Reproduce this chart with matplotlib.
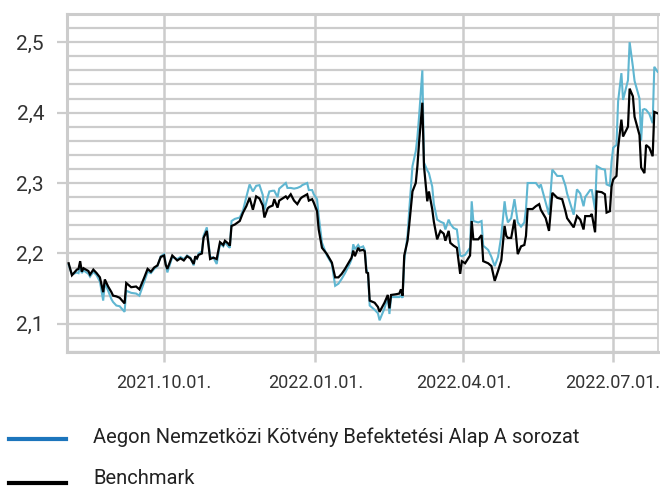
import matplotlib
matplotlib.use("Agg")
import matplotlib.pyplot as plt
import matplotlib.dates as mdates
from matplotlib.lines import Line2D
import numpy as np
import pandas as pd

plt.rcParams['font.family'] = ['Roboto', 'DejaVu Sans']

dates = [
    "2021-08-04", "2021-08-06", "2021-08-09", "2021-08-10", "2021-08-11", "2021-08-12",
    "2021-08-13", "2021-08-16", "2021-08-17", "2021-08-19", "2021-08-21", "2021-08-23",
    "2021-08-25", "2021-08-26", "2021-08-28", "2021-08-30", "2021-08-31", "2021-09-02",
    "2021-09-04", "2021-09-07", "2021-09-08", "2021-09-11", "2021-09-14", "2021-09-16",
    "2021-09-19", "2021-09-21", "2021-09-23", "2021-09-25", "2021-09-27", "2021-09-29",
    "2021-10-01", "2021-10-02", "2021-10-03", "2021-10-06", "2021-10-09", "2021-10-11",
    "2021-10-13", "2021-10-15", "2021-10-17", "2021-10-19", "2021-10-20", "2021-10-21",
    "2021-10-22", "2021-10-24", "2021-10-25", "2021-10-27", "2021-10-29", "2021-10-31",
    "2021-11-02", "2021-11-04", "2021-11-06", "2021-11-07", "2021-11-09", "2021-11-10",
    "2021-11-11", "2021-11-13", "2021-11-16", "2021-11-18", "2021-11-20", "2021-11-22",
    "2021-11-24", "2021-11-26", "2021-11-28", "2021-11-30", "2021-12-01", "2021-12-03",
    "2021-12-04", "2021-12-06", "2021-12-07", "2021-12-09", "2021-12-10", "2021-12-14",
    "2021-12-15", "2021-12-17", "2021-12-19", "2021-12-21", "2021-12-23", "2021-12-24",
    "2021-12-27", "2021-12-28", "2021-12-30", "2021-12-31", "2022-01-02", "2022-01-03",
    "2022-01-05", "2022-01-08", "2022-01-11", "2022-01-13", "2022-01-15", "2022-01-17",
    "2022-01-19", "2022-01-22", "2022-01-23", "2022-01-24", "2022-01-25", "2022-01-27",
    "2022-01-28", "2022-01-30", "2022-01-31", "2022-02-01", "2022-02-02", "2022-02-03",
    "2022-02-06", "2022-02-08", "2022-02-09", "2022-02-12", "2022-02-14", "2022-02-15",
    "2022-02-16", "2022-02-19", "2022-02-21", "2022-02-22", "2022-02-23", "2022-02-24",
    "2022-02-26", "2022-02-27", "2022-03-01", "2022-03-03", "2022-03-04", "2022-03-05",
    "2022-03-07", "2022-03-08", "2022-03-10", "2022-03-11", "2022-03-13", "2022-03-14",
    "2022-03-16", "2022-03-18", "2022-03-20", "2022-03-21", "2022-03-23", "2022-03-24",
    "2022-03-26", "2022-03-28", "2022-03-30", "2022-03-31", "2022-04-02", "2022-04-05",
    "2022-04-06", "2022-04-07", "2022-04-10", "2022-04-12", "2022-04-13", "2022-04-16",
    "2022-04-18", "2022-04-20", "2022-04-22", "2022-04-24", "2022-04-26", "2022-04-27",
    "2022-04-28", "2022-04-30", "2022-05-02", "2022-05-04", "2022-05-06", "2022-05-08",
    "2022-05-09", "2022-05-10", "2022-05-13", "2022-05-15", "2022-05-17", "2022-05-18",
    "2022-05-21", "2022-05-23", "2022-05-25", "2022-05-28", "2022-05-31", "2022-06-02",
    "2022-06-03", "2022-06-07", "2022-06-09", "2022-06-11", "2022-06-13", "2022-06-14",
    "2022-06-17", "2022-06-18", "2022-06-20", "2022-06-21", "2022-06-24", "2022-06-26",
    "2022-06-27", "2022-06-29", "2022-06-30", "2022-07-01", "2022-07-03", "2022-07-04",
    "2022-07-06", "2022-07-07", "2022-07-10", "2022-07-11", "2022-07-13", "2022-07-14",
    "2022-07-17", "2022-07-18", "2022-07-19", "2022-07-20", "2022-07-21", "2022-07-23",
    "2022-07-25", "2022-07-26", "2022-07-28",
]

fund = [
    2.184, 2.170, 2.173, 2.172, 2.182, 2.172,
    2.176, 2.171, 2.167, 2.174, 2.169, 2.160,
    2.133, 2.158, 2.147, 2.135, 2.131, 2.126,
    2.125, 2.117, 2.147, 2.144, 2.143, 2.140,
    2.160, 2.174, 2.172, 2.178, 2.182, 2.196,
    2.199, 2.186, 2.173, 2.195, 2.192, 2.195,
    2.192, 2.197, 2.194, 2.183, 2.195, 2.192,
    2.200, 2.203, 2.225, 2.237, 2.195, 2.194,
    2.185, 2.214, 2.210, 2.216, 2.210, 2.208,
    2.246, 2.249, 2.251, 2.261, 2.280, 2.298,
    2.288, 2.296, 2.297, 2.283, 2.262, 2.280,
    2.288, 2.289, 2.289, 2.280, 2.292, 2.300,
    2.293, 2.293, 2.292, 2.293, 2.295, 2.297,
    2.300, 2.290, 2.290, 2.284, 2.277, 2.253,
    2.215, 2.197, 2.185, 2.154, 2.157, 2.164,
    2.172, 2.186, 2.192, 2.213, 2.206, 2.212,
    2.208, 2.210, 2.205, 2.178, 2.170, 2.126,
    2.120, 2.115, 2.105, 2.122, 2.138, 2.114,
    2.138, 2.138, 2.138, 2.140, 2.137, 2.190,
    2.225, 2.260, 2.324, 2.345, 2.365, 2.394,
    2.460, 2.329, 2.318, 2.314, 2.295, 2.270,
    2.248, 2.245, 2.243, 2.234, 2.248, 2.242,
    2.236, 2.234, 2.197, 2.196, 2.198, 2.208,
    2.274, 2.246, 2.244, 2.246, 2.211, 2.205,
    2.195, 2.182, 2.195, 2.225, 2.274, 2.255,
    2.244, 2.250, 2.277, 2.244, 2.238, 2.244,
    2.263, 2.300, 2.300, 2.300, 2.294, 2.298,
    2.272, 2.255, 2.319, 2.310, 2.310, 2.296,
    2.285, 2.255, 2.291, 2.285, 2.267, 2.280,
    2.290, 2.290, 2.262, 2.324, 2.320, 2.319,
    2.298, 2.296, 2.330, 2.350, 2.354, 2.416,
    2.456, 2.418, 2.446, 2.500, 2.465, 2.445,
    2.420, 2.360, 2.404, 2.405, 2.404, 2.398,
    2.385, 2.465, 2.458,
]

benchmark = [
    2.186, 2.169, 2.177, 2.178, 2.189, 2.174,
    2.179, 2.175, 2.170, 2.177, 2.172, 2.166,
    2.145, 2.163, 2.153, 2.145, 2.140, 2.139,
    2.137, 2.129, 2.158, 2.152, 2.153, 2.149,
    2.166, 2.178, 2.174, 2.180, 2.183, 2.195,
    2.197, 2.184, 2.178, 2.197, 2.190, 2.193,
    2.190, 2.196, 2.193, 2.185, 2.196, 2.193,
    2.198, 2.200, 2.222, 2.232, 2.192, 2.194,
    2.192, 2.216, 2.212, 2.218, 2.214, 2.211,
    2.239, 2.241, 2.246, 2.258, 2.267, 2.279,
    2.262, 2.281, 2.278, 2.268, 2.251, 2.264,
    2.266, 2.268, 2.277, 2.265, 2.275, 2.281,
    2.278, 2.284, 2.275, 2.270, 2.278, 2.280,
    2.284, 2.275, 2.277, 2.272, 2.260, 2.234,
    2.208, 2.199, 2.187, 2.166, 2.166, 2.171,
    2.178, 2.190, 2.194, 2.204, 2.196, 2.208,
    2.204, 2.205, 2.203, 2.173, 2.172, 2.133,
    2.130, 2.124, 2.117, 2.130, 2.141, 2.122,
    2.141, 2.142, 2.143, 2.149, 2.140, 2.197,
    2.218, 2.240, 2.288, 2.300, 2.324, 2.357,
    2.414, 2.324, 2.274, 2.288, 2.263, 2.245,
    2.220, 2.232, 2.228, 2.218, 2.232, 2.215,
    2.211, 2.208, 2.171, 2.189, 2.186, 2.197,
    2.246, 2.220, 2.220, 2.226, 2.189, 2.186,
    2.182, 2.161, 2.175, 2.190, 2.239, 2.225,
    2.222, 2.222, 2.248, 2.199, 2.210, 2.212,
    2.225, 2.263, 2.263, 2.267, 2.270, 2.262,
    2.250, 2.232, 2.286, 2.279, 2.277, 2.260,
    2.250, 2.237, 2.253, 2.248, 2.234, 2.253,
    2.253, 2.256, 2.230, 2.288, 2.287, 2.284,
    2.258, 2.260, 2.295, 2.305, 2.310, 2.350,
    2.390, 2.366, 2.380, 2.434, 2.423, 2.394,
    2.368, 2.322, 2.318, 2.314, 2.354, 2.350,
    2.338, 2.401, 2.399,
]

x_ticks = ["2021-10-01", "2022-01-01", "2022-04-01", "2022-07-01"]
y_major = [2.1, 2.2, 2.3, 2.4, 2.5]
legend_labels = ["Aegon Nemzetközi Kötvény Befektetési Alap A sorozat", "Benchmark"]

d = pd.to_datetime(dates)

W, H = 660, 491
fig = plt.figure(figsize=(W / 100, H / 100), dpi=100)
ax = fig.add_axes([67 / W, 1 - 352 / H, (658 - 67) / W, (352 - 14) / H])

grid_c = "#cccccc"
ax.plot(d, fund, color="#5fb6d1", lw=1.5, zorder=3, solid_joinstyle="miter")
ax.plot(d, benchmark, color="#000000", lw=1.6, zorder=4, solid_joinstyle="miter")

ax.set_ylim(2.06, 2.54)
ax.set_xlim(pd.Timestamp("2021-08-03"), pd.Timestamp("2022-07-28 06:00"))

ax.set_yticks(y_major)
ax.set_yticklabels([f"{v:.1f}".replace(".", ",") for v in y_major])
ax.set_yticks(np.arange(2.06, 2.541, 0.02), minor=True)
ax.set_xticks(pd.to_datetime(x_ticks))
ax.xaxis.set_major_formatter(mdates.DateFormatter("%Y.%m.%d."))

ax.grid(True, which="both", axis="y", color=grid_c, lw=1.6, zorder=0)
ax.grid(True, which="major", axis="x", color=grid_c, lw=1.8, zorder=0)

ax.tick_params(axis="y", which="major", length=7.5, width=1.6, color=grid_c,
               labelsize=15, labelcolor="#333333", pad=9)
ax.tick_params(axis="y", which="minor", length=0)
ax.tick_params(axis="x", which="major", length=7.5, width=1.8, color=grid_c,
               labelsize=13, labelcolor="#333333", pad=8)

for s in ["left", "bottom", "top"]:
    ax.spines[s].set_color(grid_c)
    ax.spines[s].set_linewidth(2.2)
ax.spines["right"].set_color(grid_c)
ax.spines["right"].set_linewidth(1.2)

leg_colors = ["#1c75bc", "#000000"]
leg_line_y = [439, 483]
leg_text_y = [437, 479]
for lab, col, ly, ty in zip(legend_labels, leg_colors, leg_line_y, leg_text_y):
    fig.add_artist(Line2D([9 / W, 66 / W], [1 - ly / H, 1 - ly / H], color=col, lw=3,
                          transform=fig.transFigure))
    fig.text(93 / W, 1 - ty / H, lab, fontsize=14.5, color="#222222",
             va="center", ha="left")

fig.savefig("out.png", dpi=100)
